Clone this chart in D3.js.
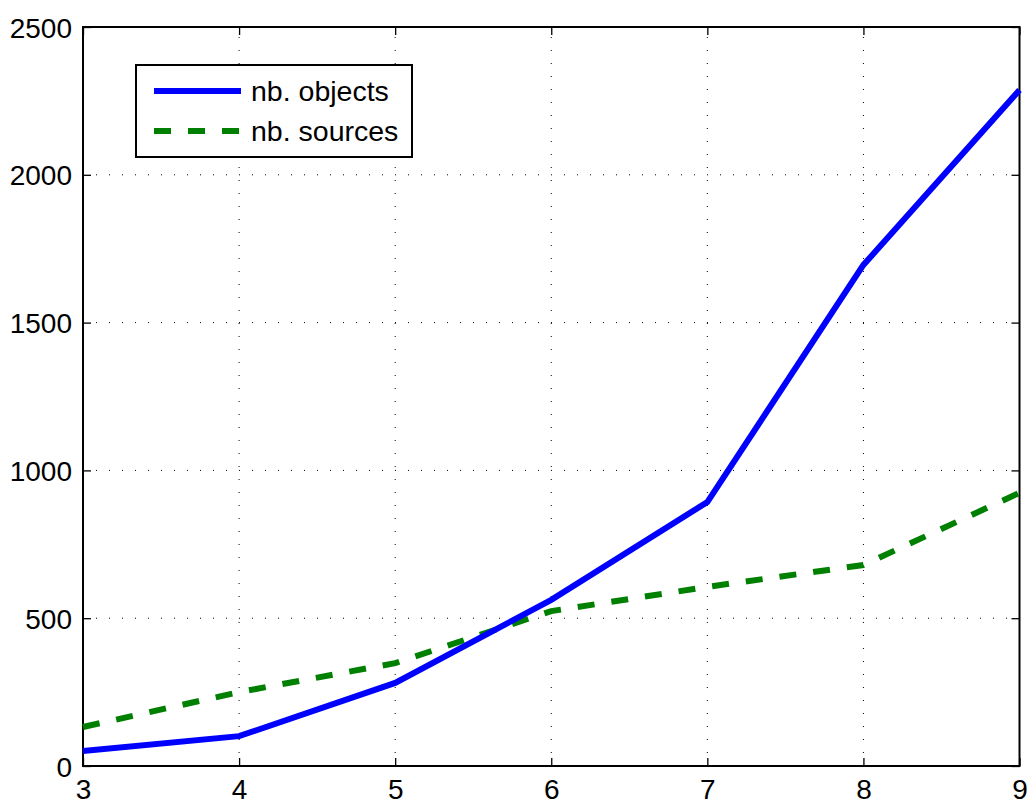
<!DOCTYPE html>
<html><head><meta charset="utf-8">
<script src="https://cdn.jsdelivr.net/npm/d3@7"></script>
<style>body{margin:0;background:#fff;} svg{display:block;}</style>
</head><body>
<svg id="c" width="1027" height="801"></svg>
<script>
const xValues = [3, 4, 5, 6, 7, 8, 9];
const objects = [51, 101, 281, 562, 893, 1695, 2287];
const sources = [132, 250, 348, 524, 606, 680, 924];
const xTicks = [3, 4, 5, 6, 7, 8, 9];
const yTicks = [0, 500, 1000, 1500, 2000, 2500];
const seriesNames = ["nb. objects", "nb. sources"];

const svg = d3.select("#c");
const L = 83, R = 1019.5, T = 27, B = 766;
const x = d3.scaleLinear().domain([3, 9]).range([L, R]);
const y = d3.scaleLinear().domain([0, 2500]).range([B, T]);
const font = "'Liberation Sans', Arial, Helvetica, sans-serif";

// grid
const g = svg.append("g");
g.selectAll(".vg").data(xTicks.slice(1, -1)).join("line")
  .attr("x1", d => x(d)).attr("x2", d => x(d)).attr("y1", B).attr("y2", T)
  .attr("stroke", "#000").attr("stroke-width", 1).attr("stroke-dasharray", "1,12");
g.selectAll(".hg").data(yTicks.slice(1, -1)).join("line")
  .attr("y1", d => y(d)).attr("y2", d => y(d)).attr("x1", L).attr("x2", R)
  .attr("stroke", "#000").attr("stroke-width", 1).attr("stroke-dasharray", "1,12");

// axes with inward ticks
const axB = svg.append("g").attr("transform", `translate(0,${B})`)
  .call(d3.axisBottom(x).tickValues(xTicks).tickSize(-8).tickPadding(13).tickFormat(d3.format("d")));
const axT = svg.append("g").attr("transform", `translate(0,${T})`)
  .call(d3.axisTop(x).tickValues(xTicks).tickSize(-8).tickFormat(""));
const axL = svg.append("g").attr("transform", `translate(${L},0)`)
  .call(d3.axisLeft(y).tickValues(yTicks).tickSize(-8).tickPadding(11).tickFormat(d3.format("d")));
const axR = svg.append("g").attr("transform", `translate(${R},0)`)
  .call(d3.axisRight(y).tickValues(yTicks).tickSize(-8).tickFormat(""));
[axB, axT, axL, axR].forEach(a => {
  a.select(".domain").remove();
  a.selectAll("line").attr("stroke", "#000").attr("stroke-width", 1.3);
  a.selectAll("text").attr("font-family", font).attr("font-size", 28).attr("fill", "#000");
});
axB.selectAll("text").attr("dy", "0.71em");
axL.selectAll("text").attr("dy", "0.36em");

svg.append("rect").attr("x", L).attr("y", T).attr("width", R - L).attr("height", B - T)
  .attr("fill", "none").attr("stroke", "#000").attr("stroke-width", 2);

// lines
const line = d3.line().x((d, i) => x(xValues[i])).y(d => y(d));
svg.append("path").datum(sources).attr("d", line).attr("fill", "none")
  .attr("stroke", "#008000").attr("stroke-width", 6).attr("stroke-dasharray", "17,17");
svg.append("path").datum(objects).attr("d", line).attr("fill", "none")
  .attr("stroke", "#0000ff").attr("stroke-width", 6).attr("stroke-linejoin", "miter");

// legend
const lg = svg.append("g");
lg.append("rect").attr("x", 136).attr("y", 65).attr("width", 276).attr("height", 92)
  .attr("fill", "#fff").attr("stroke", "#000").attr("stroke-width", 2);
const legItems = [
  {name: seriesNames[0], color: "#0000ff", dash: null, yy: 91},
  {name: seriesNames[1], color: "#008000", dash: "17,17", yy: 131}
];
legItems.forEach(it => {
  lg.append("line").attr("x1", 154).attr("x2", 241).attr("y1", it.yy).attr("y2", it.yy)
    .attr("stroke", it.color).attr("stroke-width", 6).attr("stroke-dasharray", it.dash);
  lg.append("text").attr("x", 251).attr("y", it.yy).attr("dy", "0.36em")
    .attr("font-family", font).attr("font-size", 28.5).text(it.name);
});
</script>
</body></html>
